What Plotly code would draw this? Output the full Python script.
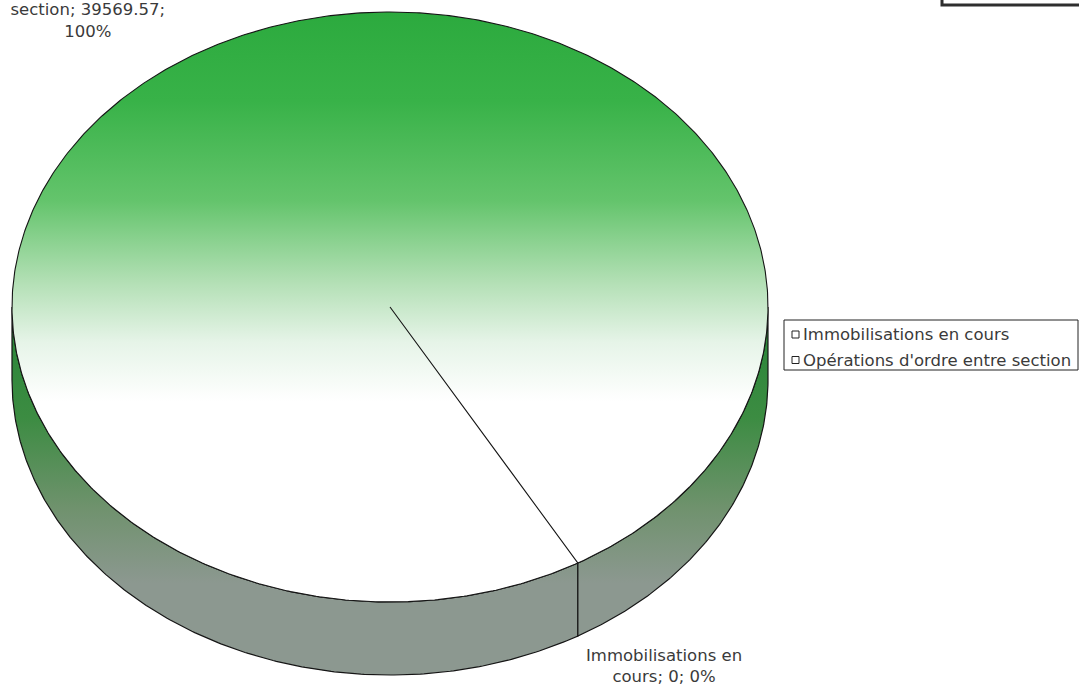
import numpy as np
import plotly.graph_objects as go

# ---------------- data ----------------
categories = ["Immobilisations en cours", "Opérations d'ordre entre section"]
values = [0, 39569.57]
label_templates = [
    "Immobilisations en<br>cours; {v}; {p}",
    "Opérations d'ordre entre<br>section; {v};<br>{p}",
]

# ---------------- geometry / style (pixel space) ----------------
W, H = 1079, 686
CX, CY = 390, 307          # centre of top face
RX, RY = 378, 295          # ellipse radii of top face
DEPTH = 73                 # thickness of the 3-D pie
START = 60.2               # start angle, degrees clockwise from 3 o'clock
FONT = "Verdana, DejaVu Sans, sans-serif"
TXT = "#3a3a3a"
EDGE = "#151515"

top_scale = [
    [0.00, "rgb(44,170,62)"],
    [0.15, "rgb(56,178,72)"],
    [0.32, "rgb(100,196,108)"],
    [0.46, "rgb(180,224,182)"],
    [0.56, "rgb(230,244,232)"],
    [0.66, "rgb(255,255,255)"],
    [1.00, "rgb(255,255,255)"],
]
side_scale = [
    [0.00, "rgb(38,132,54)"],
    [0.30, "rgb(60,140,66)"],
    [0.55, "rgb(112,146,110)"],
    [0.75, "rgb(140,152,144)"],
    [1.00, "rgb(140,152,144)"],
]


def ell(t_deg, dy=0.0):
    t = np.radians(t_deg)
    return CX + RX * np.cos(t), CY + RY * np.sin(t) + dy


def fmt(v):
    return ("%.2f" % v).rstrip("0").rstrip(".")


def front_pieces(a0, a1):
    out = []
    for k in range(-1, 3):
        lo, hi = max(a0, k * 360), min(a1, k * 360 + 180)
        if hi > lo:
            out.append((lo, hi))
    return out


total = float(sum(values))
fracs = [v / total for v in values]
bounds = []
acc = START
for f in fracs:
    bounds.append((acc, acc + f * 360))
    acc += f * 360

fig = go.Figure()

# side walls (front only)
for (a0, a1) in bounds:
    for lo, hi in front_pieces(a0, a1):
        ts = np.linspace(lo, hi, max(2, int((hi - lo) * 2)))
        xt, yt = ell(ts)
        xb, yb = ell(ts[::-1], DEPTH)
        xs = np.concatenate([xt, xb, xt[:1]])
        ys = np.concatenate([yt, yb, yt[:1]])
        fig.add_trace(go.Scatter(
            x=xs, y=ys, mode="lines", fill="toself",
            line=dict(color=EDGE, width=1.2),
            fillgradient=dict(type="vertical", colorscale=side_scale,
                              start=CY, stop=CY + RY + DEPTH),
            hoverinfo="skip", showlegend=False))

# top faces
for name, (a0, a1) in zip(categories, bounds):
    ts = np.linspace(a0, a1, max(2, int((a1 - a0) * 2)))
    xa, ya = ell(ts)
    xs = np.concatenate([[CX], xa, [CX]])
    ys = np.concatenate([[CY], ya, [CY]])
    fig.add_trace(go.Scatter(
        x=xs, y=ys, mode="lines", fill="toself", name=name,
        line=dict(color=EDGE, width=1.1),
        fillgradient=dict(type="vertical", colorscale=top_scale,
                          start=CY - RY, stop=CY + RY),
        hoverinfo="skip", showlegend=False))

# data labels
label_pos = [(664, 665.5), (88, 10)]
annotations = []
for tmpl, v, f, (lx, ly) in zip(label_templates, values, fracs, label_pos):
    annotations.append(dict(
        x=lx, y=ly, xref="x", yref="y", showarrow=False,
        text=tmpl.format(v=fmt(v), p="%d%%" % round(f * 100)),
        font=dict(family=FONT, size=16.5, color=TXT),
        xanchor="center", yanchor="middle", align="center"))

# legend (drawn manually to match the original layout)
leg_y = [334.5, 360]
fig.add_trace(go.Scatter(
    x=[795.5] * len(categories), y=leg_y, mode="markers",
    marker=dict(symbol="square", size=7, color="white",
                line=dict(color="#222", width=1)),
    hoverinfo="skip", showlegend=False))
for name, yy in zip(categories, leg_y):
    annotations.append(dict(
        x=801, y=yy, xref="x", yref="y", showarrow=False, text=name,
        font=dict(family=FONT, size=16.5, color=TXT),
        xanchor="left", yanchor="middle"))

shapes = [
    dict(type="rect", xref="x", yref="y", x0=784, y0=320, x1=1078, y1=370,
         line=dict(color="#222", width=1), fillcolor="rgba(0,0,0,0)", layer="below"),
    dict(type="rect", xref="x", yref="y", x0=942, y0=-20, x1=1095, y1=5,
         line=dict(color="#2e2e2e", width=3), fillcolor="white", layer="above"),
]

fig.update_layout(
    width=W, height=H,
    margin=dict(l=0, r=0, t=0, b=0),
    paper_bgcolor="white", plot_bgcolor="white",
    xaxis=dict(range=[0, W], visible=False, fixedrange=True),
    yaxis=dict(range=[H, 0], visible=False, fixedrange=True),
    annotations=annotations, shapes=shapes,
    showlegend=False,
)

fig.write_html(
    "out.html",
    config={"displayModeBar": False, "staticPlot": True},
    post_script="document.body.style.margin='0';document.body.style.overflow='hidden';",
)
